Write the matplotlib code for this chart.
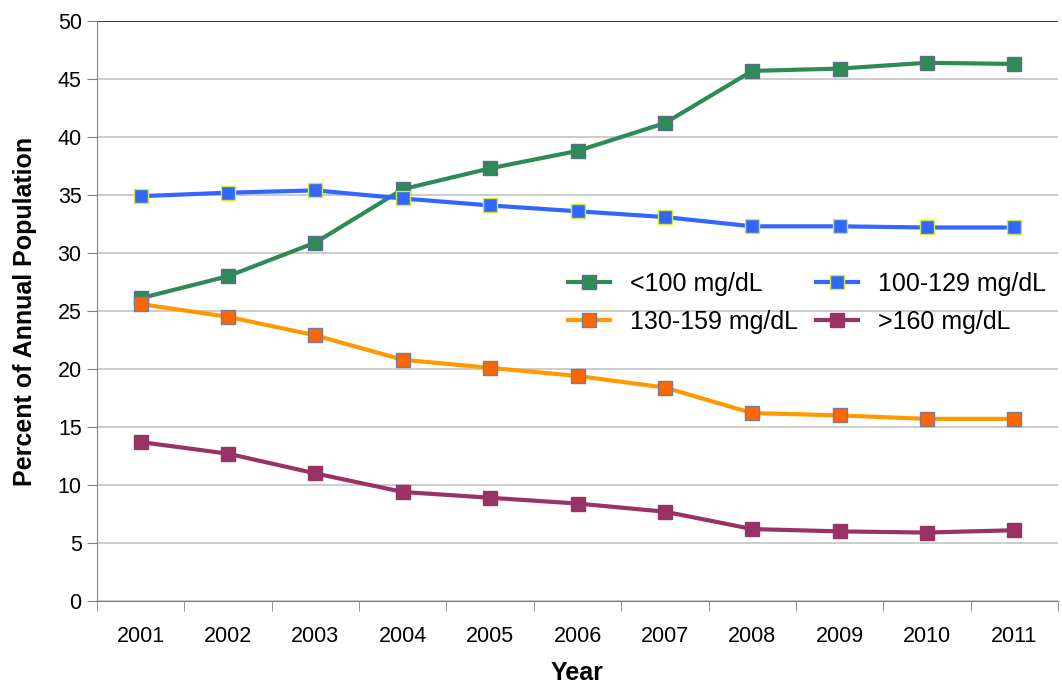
import numpy as np
import matplotlib.pyplot as plt

plt.rcParams['font.family'] = ['Liberation Sans', 'DejaVu Sans']

years = ["2001", "2002", "2003", "2004", "2005", "2006", "2007", "2008", "2009", "2010", "2011"]
under_100 = [26.1, 28.0, 30.9, 35.5, 37.3, 38.8, 41.2, 45.7, 45.9, 46.4, 46.3]
r100_129 = [34.9, 35.2, 35.4, 34.7, 34.1, 33.6, 33.1, 32.3, 32.3, 32.2, 32.2]
r130_159 = [25.6, 24.5, 22.9, 20.8, 20.1, 19.4, 18.4, 16.2, 16.0, 15.7, 15.7]
over_160 = [13.7, 12.7, 11.0, 9.4, 8.9, 8.4, 7.7, 6.2, 6.0, 5.9, 6.1]

x = np.arange(len(years))

fig = plt.figure(figsize=(10.62, 6.87), dpi=100)
ax = fig.add_axes([0.0913, 0.1252, 0.905, 0.8442])

# gridlines
ax.set_axisbelow(True)
ax.yaxis.grid(True, color='#c8c8c8', linewidth=1.3)

lw, ms = 3.0, 10.5
h1, = ax.plot(x, under_100, color='#2e8b57', lw=lw, marker='s', ms=ms,
              mfc='#2e8b57', mec='#5a6e8c', mew=1, label='<100 mg/dL')
h2, = ax.plot(x, r100_129, color='#3366ff', lw=lw, marker='s', ms=ms,
              mfc='#3366ff', mec='#ccee33', mew=1, label='100-129 mg/dL')
h3, = ax.plot(x, r130_159, color='#ff9900', lw=lw, marker='s', ms=ms,
              mfc='#ff6600', mec='#7a7a9a', mew=1, label='130-159 mg/dL')
h4, = ax.plot(x, over_160, color='#993366', lw=lw, marker='s', ms=ms,
              mfc='#993366', mec='#993366', mew=1, label='>160 mg/dL')

ax.set_xlim(-0.5, len(years) - 0.5)
ax.set_ylim(0, 50)
ax.set_yticks(np.arange(0, 51, 5))
ax.set_xticks(x)
ax.set_xticklabels(years)
ax.set_xticks(np.arange(-0.5, len(years), 1), minor=True)
ax.tick_params(axis='x', which='major', length=0, pad=18, labelsize=15.5)
ax.tick_params(axis='x', which='minor', length=7, color='#808080', direction='out')
ax.tick_params(axis='y', length=7, color='#808080', direction='out', labelsize=15.5, pad=4)

for s in ['top', 'right']:
    ax.spines[s].set_visible(False)
ax.spines['left'].set_color('#808080')
ax.spines['bottom'].set_color('#808080')
ax.axhline(50, color='#404040', lw=1.5)

ax.set_xlabel('Year', fontsize=18, fontweight='bold', labelpad=10)
ax.set_ylabel('Percent of Annual Population', fontsize=18, fontweight='bold', labelpad=15)

ax.legend(handles=[h1, h3, h2, h4], ncol=2, frameon=False, fontsize=18,
          loc='center', bbox_to_anchor=(0.739, 0.514), handlelength=1.7,
          handletextpad=0.8, columnspacing=0.7, labelspacing=0.55,
          borderaxespad=0, borderpad=0)

fig.savefig('out.png', dpi=100)
